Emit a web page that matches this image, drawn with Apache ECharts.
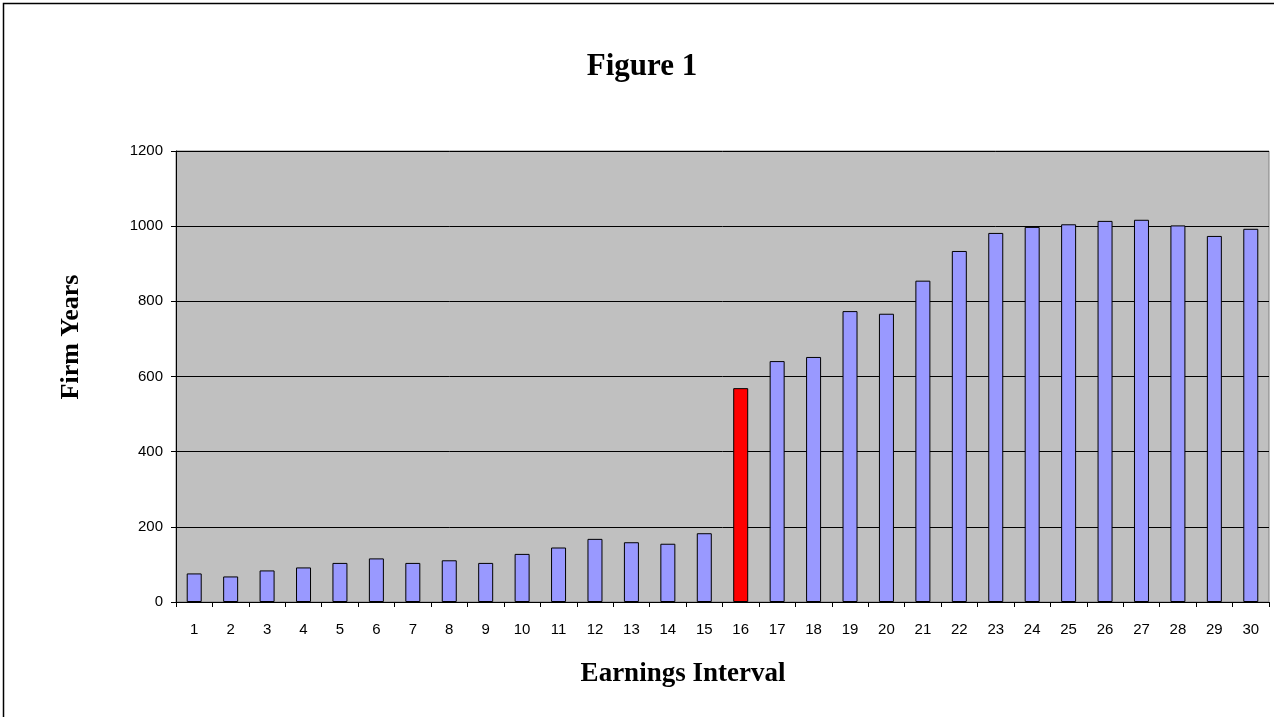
<!DOCTYPE html>
<html>
<head>
<meta charset="utf-8">
<title>Figure 1</title>
<script src="https://cdn.jsdelivr.net/npm/echarts@6/dist/echarts.min.js"></script>
<style>
  html, body { margin: 0; padding: 0; background: #ffffff; }
  #chart { width: 1274px; height: 717px; }
</style>
</head>
<body>
<div id="chart"></div>
<script>
// Earnings intervals on the x axis
const categories = ['1','2','3','4','5','6','7','8','9','10','11','12','13','14','15',
                    '16','17','18','19','20','21','22','23','24','25','26','27','28','29','30'];
// Number of firm years per interval
const firmYears = [76, 68, 84, 92, 104, 116, 104, 111, 104, 128, 145, 168, 159, 155, 183,
                   569, 641, 652, 774, 767, 855, 934, 982, 998, 1005, 1014, 1017, 1002, 974, 993];
// Interval drawn in red
const highlightIndex = 15;
const yTicks = [0, 200, 400, 600, 800, 1000, 1200];

const chart = echarts.init(document.getElementById('chart'), null, { renderer: 'canvas' });

const serif = '"Liberation Serif", "Times New Roman", serif';
const sans = '"Liberation Sans", Arial, sans-serif';
const headingStyle = (size) => ({
  fontFamily: serif, fontWeight: 'bold', fontSize: size, fill: '#000',
  align: 'center', verticalAlign: 'middle'
});

chart.setOption({
  animation: false,
  backgroundColor: '#ffffff',
  graphic: [
    {
      type: 'rect',
      shape: { x: 3.5, y: 3.5, width: 1300, height: 800 },
      style: { fill: 'none', stroke: '#000', lineWidth: 1.5 },
      silent: true
    },
    { type: 'text', x: 642, y: 67, style: Object.assign({ text: 'Figure 1' }, headingStyle(31)) },
    { type: 'text', x: 683, y: 674, style: Object.assign({ text: 'Earnings Interval' }, headingStyle(27)) },
    { type: 'text', x: 71, y: 337, rotation: Math.PI / 2,
      style: Object.assign({ text: 'Firm Years' }, headingStyle(26)) }
  ],
  grid: {
    left: 176, top: 151, width: 1093, height: 451,
    show: true,
    backgroundColor: '#C0C0C0',
    borderColor: '#808080',
    borderWidth: 1
  },
  xAxis: {
    type: 'category',
    data: categories,
    boundaryGap: true,
    axisLine: { show: true, lineStyle: { color: '#000', width: 1 } },
    axisTick: { show: true, length: 5, alignWithLabel: false, lineStyle: { color: '#000' } },
    axisLabel: { fontFamily: sans, fontSize: 15, color: '#000', margin: 20, interval: 0 },
    splitLine: { show: false }
  },
  yAxis: {
    type: 'value',
    min: 0,
    max: yTicks[yTicks.length - 1],
    interval: yTicks[1] - yTicks[0],
    axisLine: { show: true, lineStyle: { color: '#000', width: 1 } },
    axisTick: { show: true, length: 5, lineStyle: { color: '#000' } },
    axisLabel: { fontFamily: sans, fontSize: 15, color: '#000', margin: 13,
                 formatter: (v) => String(v) },
    splitLine: { show: true, lineStyle: { color: '#000', width: 1 } }
  },
  series: [{
    type: 'bar',
    barWidth: 15,
    data: firmYears.map((v, i) => i === highlightIndex
      ? { value: v, itemStyle: { color: '#FF0000' } }
      : v),
    itemStyle: { color: '#9999FF', borderColor: '#000', borderWidth: 1 }
  }]
});
</script>
</body>
</html>
